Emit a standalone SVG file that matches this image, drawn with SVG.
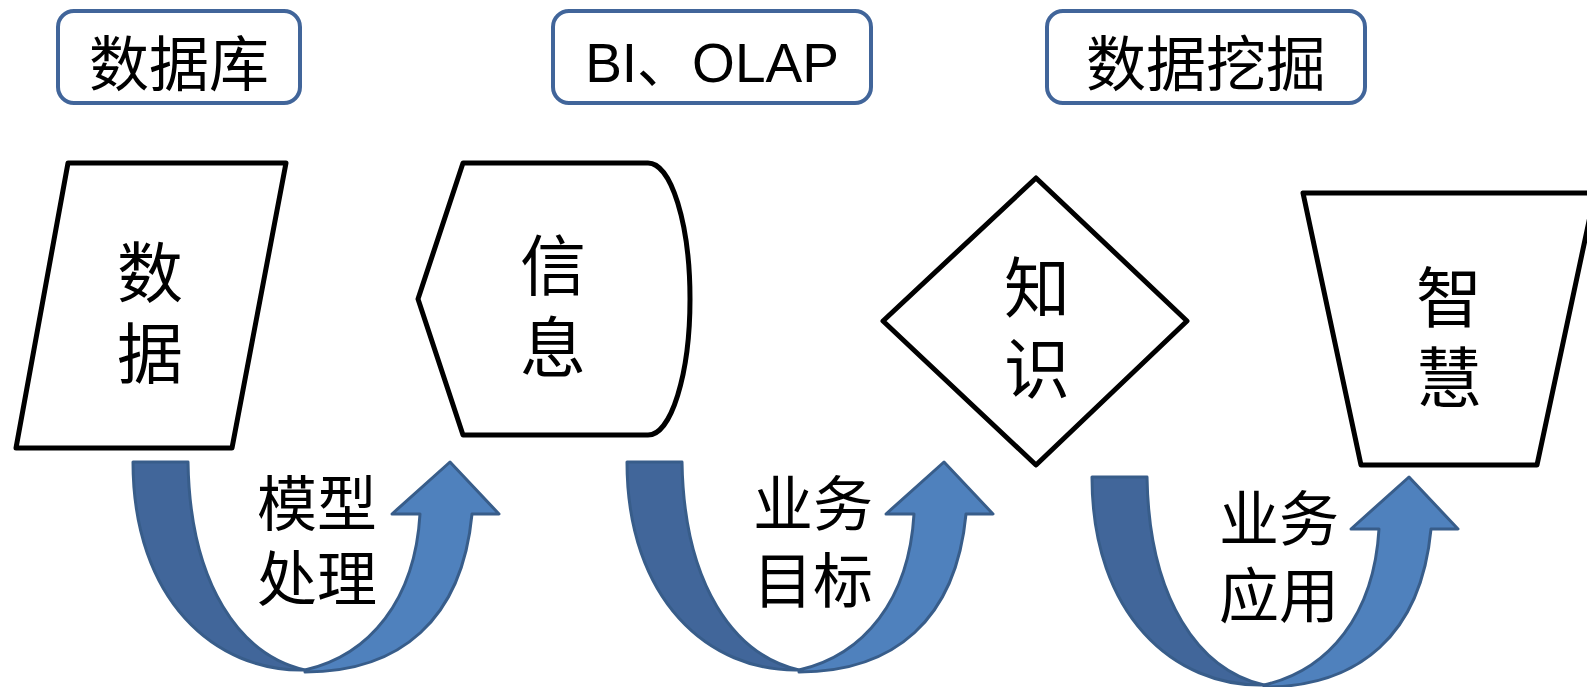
<svg xmlns="http://www.w3.org/2000/svg" width="1587" height="687" viewBox="0 0 1587 687">
<style>
.box{fill:#fff;stroke:#41659A;stroke-width:4}
.shape{fill:#fff;stroke:#000;stroke-width:5;stroke-linejoin:round}
.cjk{font-family:"Noto Sans CJK SC",sans-serif;fill:#000;text-anchor:middle}
.lat{font-family:"Liberation Sans","Noto Sans CJK SC",sans-serif;fill:#000;text-anchor:middle}
.dark{fill:#41669A;stroke:#385D8A;stroke-width:3;stroke-linejoin:round}
.light{fill:#4F81BD;stroke:#385D8A;stroke-width:3;stroke-linejoin:round}
</style>
<defs>
<g id="uarrow">
<path class="light" d="M305,670 C370,655 415,600 420,514 L392,514 L450,462 L499,514 L472,514 C462,620 400,672 305,672 Z"/>
<path class="dark" d="M133,462 L188,462 C190,585 240,655 305,670 C215,672 133,600 133,462 Z"/>
</g>
</defs>
<rect width="1587" height="687" fill="#fff"/>
<g id="label-db">
<rect class="box" x="58" y="11" width="242" height="92" rx="16"/>
<text class="cjk" x="179" y="86" font-size="60">数据库</text>
</g>
<g id="label-bi">
<rect class="box" x="553" y="11" width="318" height="92" rx="16"/>
<text class="lat" x="712" y="82" font-size="55">BI、OLAP</text>
</g>
<g id="label-dm">
<rect class="box" x="1047" y="11" width="318" height="92" rx="16"/>
<text class="cjk" x="1206" y="86" font-size="60">数据挖掘</text>
</g>
<g id="node-data">
<polygon class="shape" points="68,163 286,163 232,448 16,448"/>
<text class="cjk" font-size="66"><tspan x="150" y="297">数</tspan><tspan x="150" y="378">据</tspan></text>
</g>
<g id="node-info">
<path class="shape" d="M463,163 L648,163 A42,136 0 0 1 648,435 L463,435 L418,299 Z"/>
<text class="cjk" font-size="66"><tspan x="553" y="290">信</tspan><tspan x="553" y="372">息</tspan></text>
</g>
<g id="node-knowledge">
<polygon class="shape" points="1036,178 1187,321 1036,465 883,321"/>
<text class="cjk" font-size="66"><tspan x="1037" y="312">知</tspan><tspan x="1037" y="393">识</tspan></text>
</g>
<g id="node-wisdom">
<polygon class="shape" points="1303,193 1595,193 1537,465 1361,465"/>
<text class="cjk" font-size="66"><tspan x="1449" y="322">智</tspan><tspan x="1449" y="402">慧</tspan></text>
</g>
<g id="connectors">
<use href="#uarrow"/>
<use href="#uarrow" transform="translate(494,0)"/>
<use href="#uarrow" transform="translate(959,15)"/>
<text class="cjk" font-size="60"><tspan x="317" y="526">模型</tspan><tspan x="317" y="601">处理</tspan></text>
<text class="cjk" font-size="60"><tspan x="813" y="526">业务</tspan><tspan x="813" y="603">目标</tspan></text>
<text class="cjk" font-size="60"><tspan x="1279" y="541">业务</tspan><tspan x="1279" y="618">应用</tspan></text>
</g>
</svg>
